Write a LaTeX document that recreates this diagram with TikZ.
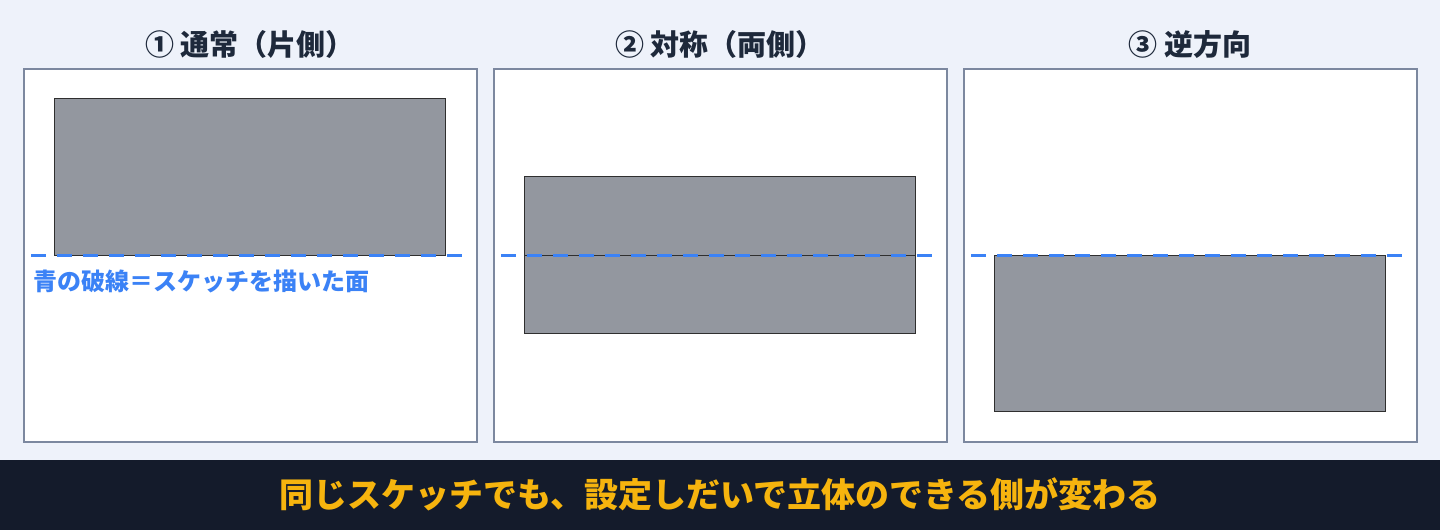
\documentclass[tikz,border=0pt]{standalone}
\usepackage{fontspec}
\setmainfont{Noto Sans CJK JP}
\definecolor{bgc}{HTML}{EEF2FA}
\definecolor{barc}{HTML}{141B2B}
\definecolor{panelc}{HTML}{7C889F}
\definecolor{grayc}{HTML}{93979F}
\definecolor{edgec}{HTML}{2F2F2F}
\definecolor{bluec}{HTML}{3B82F6}
\definecolor{titlec}{HTML}{1E293B}
\definecolor{amberc}{HTML}{F6B40E}
\tikzset{
  panel/.style={draw=panelc, fill=white, line width=2pt, minimum width=453pt, minimum height=373pt, inner sep=0pt},
  solid/.style={draw=edgec, fill=grayc, line width=1pt, minimum width=391.5pt, minimum height=156.5pt, inner sep=0pt},
  half/.style={draw=edgec, fill=grayc, line width=1pt, minimum width=391.5pt, minimum height=78.25pt, inner sep=0pt},
  sketch/.style={draw=bluec, line width=3pt, dash pattern=on 15pt off 11pt},
  ttl/.style={text=titlec, font=\fontsize{29pt}{33pt}\selectfont\bfseries, inner sep=0pt},
  lbl/.style={text=bluec, font=\fontsize{24pt}{27pt}\selectfont\bfseries, inner sep=0pt, anchor=west},
  bar/.style={text=amberc, font=\fontsize{34pt}{39pt}\selectfont\bfseries, inner sep=0pt}
}
\begin{document}
\begin{tikzpicture}[x=1pt,y=-1pt]
\fill[bgc] (0,0) rectangle (1440,530);
\useasboundingbox (0,0) rectangle (1440,530);
\fill[barc] (0,460) rectangle (1440,530);
% panels
\node[panel] (p1) at (250,255) {};
\node[panel] (p2) at (720,255) {};
\node[panel] (p3) at (1190,255) {};
% titles
\node[ttl] (t1) at (250,44.5) {① 通常（片側）};
\node[ttl] (t2) at (720,44.5) {② 対称（両側）};
\node[ttl] (t3) at (1190,44.5) {③ 逆方向};
% solids
\node[solid] (s1) at (249.75,176.75) {};
\node[half] (s2a) at (720,215.875) {};
\node[half] (s2b) at (720,294.125) {};
\node[solid] (s3) at (1189.75,333.25) {};
% sketch planes
\coordinate (a1) at (31,255); \coordinate (b1) at (462,255);
\coordinate (a2) at (501,255); \coordinate (b2) at (932,255);
\coordinate (a3) at (971,255); \coordinate (b3) at (1402,255);
\draw[sketch] (a1) -- (b1);
\draw[sketch] (a2) -- (b2);
\draw[sketch] (a3) -- (b3);
% label
\node[lbl] (l1) at (33,281) {青の破線＝スケッチを描いた面};
% bottom message
\node[bar] (msg) at (720,494) {同じスケッチでも、設定しだいで立体のできる側が変わる};
\end{tikzpicture}
\end{document}
